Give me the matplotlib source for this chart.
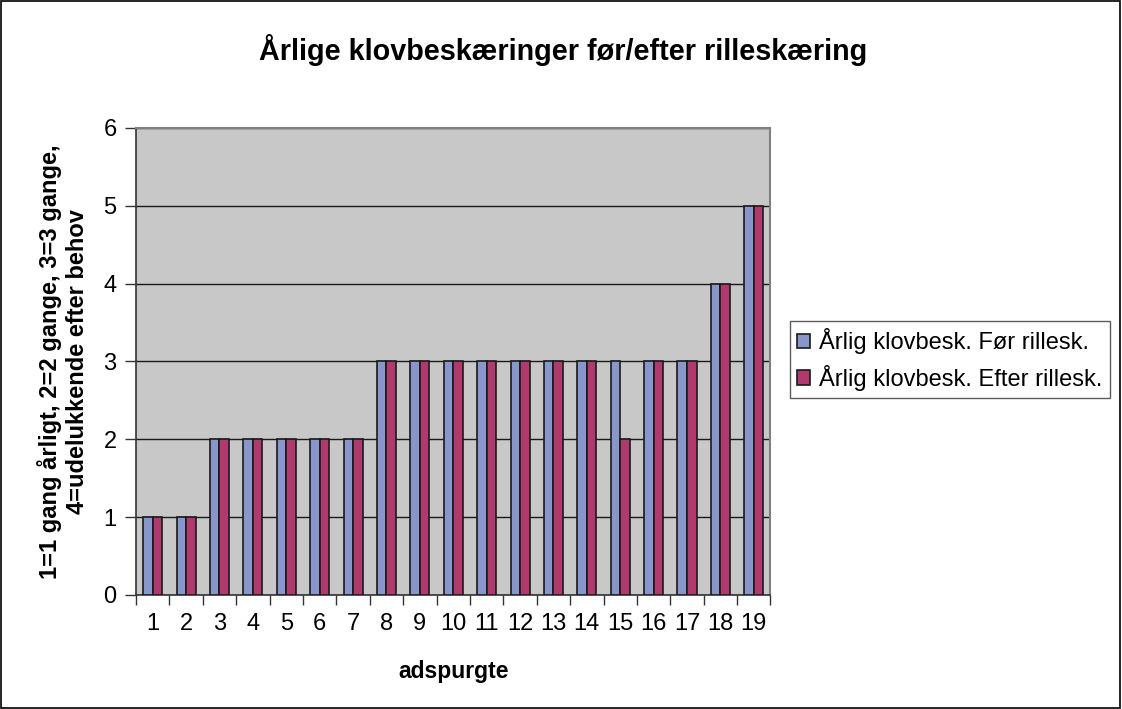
import numpy as np
import matplotlib
matplotlib.use("Agg")
import matplotlib.pyplot as plt

respondents = [str(i) for i in range(1, 20)]
before = [1, 1, 2, 2, 2, 2, 2, 3, 3, 3, 3, 3, 3, 3, 3, 3, 3, 4, 5]
after = [1, 1, 2, 2, 2, 2, 2, 3, 3, 3, 3, 3, 3, 3, 2, 3, 3, 4, 5]
series_names = ["Årlig klovbesk. Før rillesk.", "Årlig klovbesk. Efter rillesk."]

plt.rcParams['font.family'] = ['Liberation Sans', 'DejaVu Sans']

fig = plt.figure(figsize=(11.22, 7.09), dpi=100)
ax = fig.add_axes([0.1212, 0.1608, 0.5655, 0.6587])
ax.set_facecolor("#C8C8C8")

x = np.arange(len(respondents))
w = 0.285
ax.bar(x - w / 2, before, w, color="#8896CC", edgecolor="#1a1a1a", linewidth=1.2,
       label=series_names[0], zorder=3)
ax.bar(x + w / 2, after, w, color="#B03A6E", edgecolor="#1a1a1a", linewidth=1.2,
       label=series_names[1], zorder=3)

ax.set_xlim(-0.5, len(respondents) - 0.5)
ax.set_ylim(0, 6)
ax.set_yticks(range(0, 7))
ax.set_xticks(x)
ax.set_xticklabels(respondents)
ax.set_xticks(np.arange(-0.5, len(respondents)), minor=True)
ax.tick_params(axis='x', which='major', length=0, labelsize=17, pad=13)
ax.tick_params(axis='x', which='minor', length=7, width=1, direction='out', color='#333333')
ax.tick_params(axis='y', length=8, width=1, direction='out', labelsize=17, pad=6,
               color='#333333')
ax.grid(axis='y', color='#1a1a1a', linewidth=1, zorder=1)

for side in ['top', 'right']:
    ax.spines[side].set_color('#808080')
    ax.spines[side].set_linewidth(1.5)
for side in ['left', 'bottom']:
    ax.spines[side].set_color('#333333')
    ax.spines[side].set_linewidth(1.2)

ax.set_xlabel("adspurgte", fontsize=16.5, fontweight='bold')
ax.xaxis.set_label_coords(0.5, -0.14)
ax.set_ylabel("1=1 gang årligt, 2=2 gange, 3=3 gange,\n4=udelukkende efter behov",
              fontsize=17, fontweight='bold', linespacing=1.2)
ax.yaxis.set_label_coords(-0.074, 0.5)
fig.text(0.502, 0.915, "Årlige klovbeskæringer før/efter rilleskæring",
         fontsize=20.7, fontweight='bold', ha='center', va='baseline')

leg = fig.legend(loc='center left', bbox_to_anchor=(0.704, 0.493), fontsize=17,
                 frameon=True, fancybox=False, handlelength=0.55, handleheight=0.55,
                 handletextpad=0.4, borderpad=0.3, labelspacing=0.45, borderaxespad=0)
leg.get_frame().set_edgecolor('#333333')
leg.get_frame().set_linewidth(1)

fig.patches.append(plt.Rectangle((0.001, 0.001), 0.997, 0.997, transform=fig.transFigure,
                                 fill=False, edgecolor='black', linewidth=1.2))

fig.savefig("out.png", dpi=100)
